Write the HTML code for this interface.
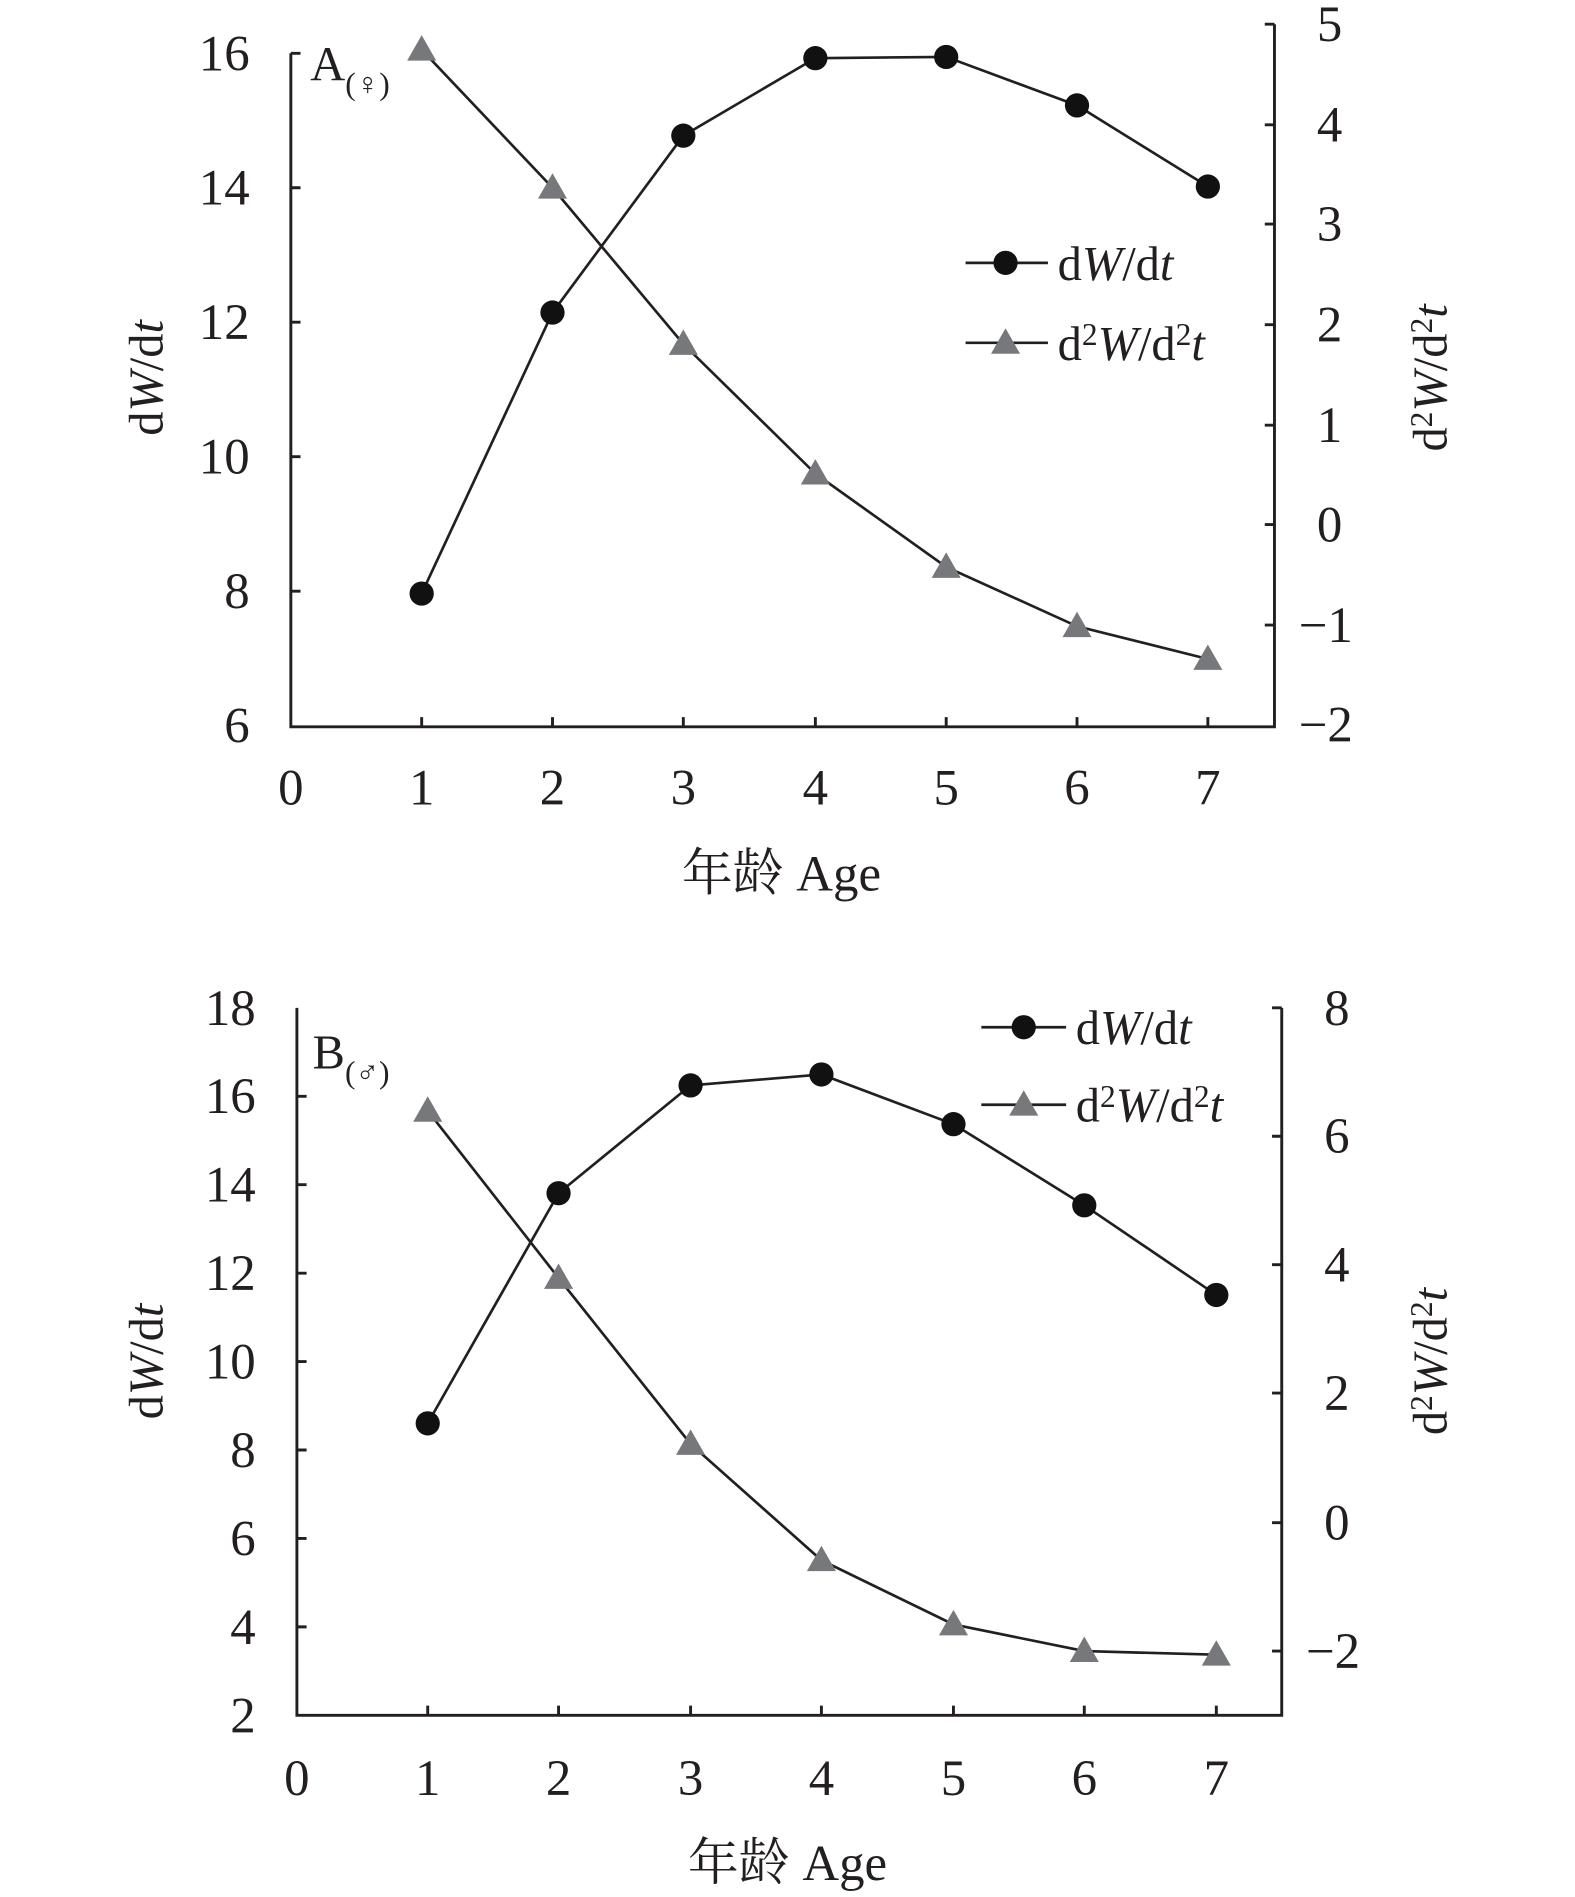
<!DOCTYPE html>
<html><head><meta charset="utf-8"><style>
html,body{margin:0;padding:0;background:#fff}
svg{display:block}
text{font-family:"Liberation Serif",serif;fill:#231f20}
.cjk{font-family:"Liberation Serif","Noto Serif CJK SC",serif}
</style></head><body>
<svg width="1575" height="1897" viewBox="0 0 1300 1566" xmlns="http://www.w3.org/2000/svg">
<defs>
<g id="tri"><polygon points="0,-12 12,9 -12,9" fill="#77787b"/></g>
<g id="dot"><circle r="10" fill="#111"/></g>
</defs>
<g stroke="#231f20" stroke-width="2.4" fill="none">
<path d="M240,44 V600 H1052 V20"/>
<path d="M240,44h8 M240,155h8 M240,266h8 M240,377h8 M240,488h8"/>
<path d="M1052,20h-8 M1052,103h-8 M1052,185h-8 M1052,268h-8 M1052,351h-8 M1052,433h-8 M1052,516h-8"/>
<path d="M348,600v-8 M456,600v-8 M564,600v-8 M673,600v-8 M781,600v-8 M889,600v-8 M997,600v-8"/>
<path d="M245,832 V1416 H1058 V832"/>
<path d="M245,905h8 M245,978h8 M245,1051h8 M245,1124h8 M245,1197h8 M245,1270h8 M245,1343h8"/>
<path d="M1058,832h-8 M1058,938h-8 M1058,1044h-8 M1058,1150h-8 M1058,1257h-8 M1058,1363h-8"/>
<path d="M353,1416v-8 M461,1416v-8 M570,1416v-8 M678,1416v-8 M787,1416v-8 M895,1416v-8 M1004,1416v-8"/>
</g>
<g stroke="#231f20" stroke-width="2.2" fill="none">
<polyline points="348,490 456,258 564,112 673,48 781,47 889,87 997,154"/>
<polyline points="348,41 456,155 564,284 673,391 781,468 889,517 997,544"/>
<polyline points="797,217 865,217"/><polyline points="797,283 865,283"/>
<polyline points="353,1175 461,985 570,896 678,887 787,928 895,995 1004,1069"/>
<polyline points="353,917 461,1055 570,1192 678,1288 787,1341 895,1363 1004,1366"/>
<polyline points="810,848 880,848"/><polyline points="810,912 880,912"/>
</g>
<g>
<use href="#dot" x="348" y="490"/><use href="#dot" x="456" y="258"/><use href="#dot" x="564" y="112"/><use href="#dot" x="673" y="48"/><use href="#dot" x="781" y="47"/><use href="#dot" x="889" y="87"/><use href="#dot" x="997" y="154"/>
<use href="#tri" x="348" y="41"/><use href="#tri" x="456" y="155"/><use href="#tri" x="564" y="284"/><use href="#tri" x="673" y="391"/><use href="#tri" x="781" y="468"/><use href="#tri" x="889" y="517"/><use href="#tri" x="997" y="544"/>
<use href="#dot" x="830" y="217"/><use href="#tri" x="830" y="283"/>
<use href="#dot" x="353" y="1175"/><use href="#dot" x="461" y="985"/><use href="#dot" x="570" y="896"/><use href="#dot" x="678" y="887"/><use href="#dot" x="787" y="928"/><use href="#dot" x="895" y="995"/><use href="#dot" x="1004" y="1069"/>
<use href="#tri" x="353" y="917"/><use href="#tri" x="461" y="1055"/><use href="#tri" x="570" y="1192"/><use href="#tri" x="678" y="1288"/><use href="#tri" x="787" y="1341"/><use href="#tri" x="895" y="1363"/><use href="#tri" x="1004" y="1366"/>
<use href="#dot" x="845" y="848"/><use href="#tri" x="845" y="912"/>
</g>
<g font-size="42" text-anchor="end">
<text x="206" y="58">16</text><text x="206" y="169">14</text><text x="206" y="280">12</text><text x="206" y="391">10</text><text x="206" y="502">8</text><text x="206" y="613">6</text>
</g>
<g font-size="42" text-anchor="start">
<text x="1087" y="34">5</text><text x="1087" y="117">4</text><text x="1087" y="199">3</text><text x="1087" y="282">2</text><text x="1087" y="365">1</text><text x="1087" y="447">0</text><text x="1072" y="530">−1</text><text x="1072" y="612">−2</text>
</g>
<g font-size="42" text-anchor="middle">
<text x="240" y="664">0</text><text x="348" y="664">1</text><text x="456" y="664">2</text><text x="564" y="664">3</text><text x="673" y="664">4</text><text x="781" y="664">5</text><text x="889" y="664">6</text><text x="997" y="664">7</text>
<text class="cjk" x="645" y="735">年龄 Age</text>
</g>
<text x="256" y="66" font-size="40">A<tspan class="cjk" font-size="26" dy="12">(♀)</tspan></text>
<text font-size="40" transform="translate(134,312) rotate(-90)" text-anchor="middle">d<tspan font-style="italic">W</tspan>/d<tspan font-style="italic">t</tspan></text>
<text font-size="40" transform="translate(1194,312) rotate(-90)" text-anchor="middle">d<tspan font-size="26" dy="-12">2</tspan><tspan font-style="italic" dy="12">W</tspan>/d<tspan font-size="26" dy="-12">2</tspan><tspan font-style="italic" dy="12">t</tspan></text>
<text x="873" y="231" font-size="40">d<tspan font-style="italic">W</tspan>/d<tspan font-style="italic">t</tspan></text>
<text x="873" y="297" font-size="40">d<tspan font-size="26" dy="-12">2</tspan><tspan font-style="italic" dy="12">W</tspan>/d<tspan font-size="26" dy="-12">2</tspan><tspan font-style="italic" dy="12">t</tspan></text>
<g font-size="42" text-anchor="end">
<text x="211" y="846">18</text><text x="211" y="919">16</text><text x="211" y="992">14</text><text x="211" y="1065">12</text><text x="211" y="1138">10</text><text x="211" y="1211">8</text><text x="211" y="1284">6</text><text x="211" y="1357">4</text><text x="211" y="1430">2</text>
</g>
<g font-size="42" text-anchor="start">
<text x="1093" y="846">8</text><text x="1093" y="952">6</text><text x="1093" y="1058">4</text><text x="1093" y="1164">2</text><text x="1093" y="1271">0</text><text x="1078" y="1377">−2</text>
</g>
<g font-size="42" text-anchor="middle">
<text x="245" y="1482">0</text><text x="353" y="1482">1</text><text x="461" y="1482">2</text><text x="570" y="1482">3</text><text x="678" y="1482">4</text><text x="787" y="1482">5</text><text x="895" y="1482">6</text><text x="1004" y="1482">7</text>
<text class="cjk" x="650" y="1552">年龄 Age</text>
</g>
<text x="258" y="882" font-size="40">B<tspan class="cjk" font-size="26" dy="12">(♂)</tspan></text>
<text font-size="40" transform="translate(134,1124) rotate(-90)" text-anchor="middle">d<tspan font-style="italic">W</tspan>/d<tspan font-style="italic">t</tspan></text>
<text font-size="40" transform="translate(1194,1124) rotate(-90)" text-anchor="middle">d<tspan font-size="26" dy="-12">2</tspan><tspan font-style="italic" dy="12">W</tspan>/d<tspan font-size="26" dy="-12">2</tspan><tspan font-style="italic" dy="12">t</tspan></text>
<text x="888" y="862" font-size="40">d<tspan font-style="italic">W</tspan>/d<tspan font-style="italic">t</tspan></text>
<text x="888" y="926" font-size="40">d<tspan font-size="26" dy="-12">2</tspan><tspan font-style="italic" dy="12">W</tspan>/d<tspan font-size="26" dy="-12">2</tspan><tspan font-style="italic" dy="12">t</tspan></text>
</svg>
</body></html>
